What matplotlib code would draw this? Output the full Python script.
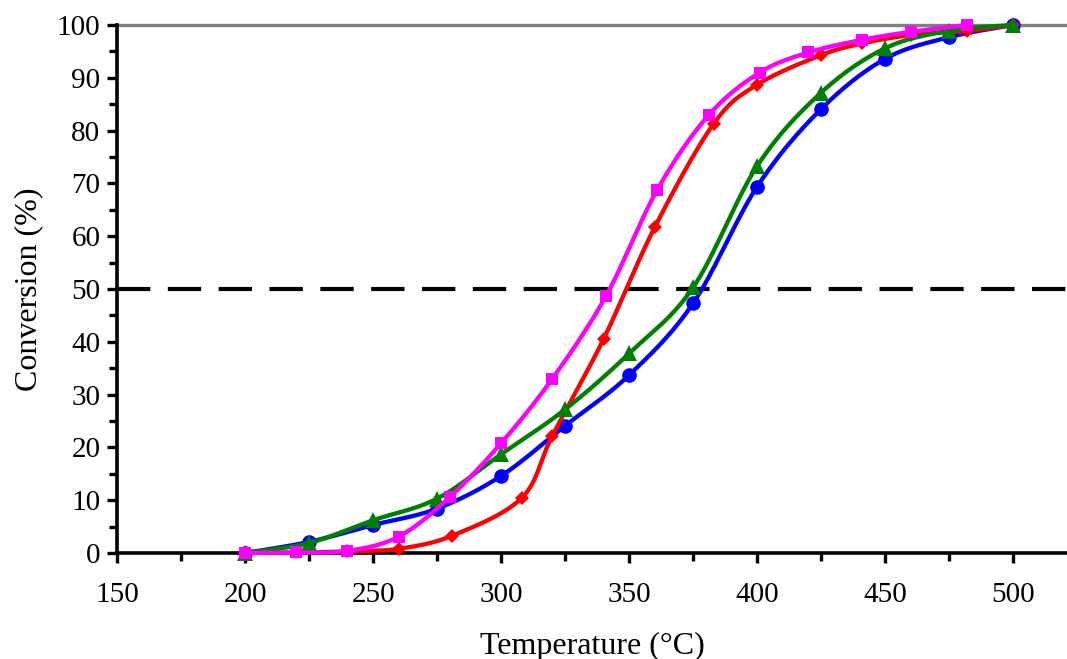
import numpy as np
import matplotlib
matplotlib.use("Agg")
import matplotlib.pyplot as plt
from matplotlib.ticker import MultipleLocator

plt.rcParams['font.family'] = ['Liberation Serif', 'DejaVu Serif']

# ---- data ----
blue_x = [200, 225, 250, 275, 300, 325, 350, 375, 400, 425, 450, 475, 500]
blue_y = [0, 2.1, 5.3, 8.4, 14.6, 24.1, 33.7, 47.3, 69.4, 84.1, 93.6, 97.7, 100]

green_x = [200, 225, 250, 275, 300, 325, 350, 375, 400, 425, 450, 475, 500]
green_y = [0, 1.9, 6.2, 10.3, 18.7, 27.2, 37.8, 50.3, 73.3, 87.2, 95.6, 98.9, 100]

red_x = [200, 220, 240, 260, 281, 308, 320, 340, 360, 383, 400, 425, 441, 460, 482, 500]
red_y = [0, 0.1, 0.3, 0.8, 3.3, 10.4, 22.2, 40.5, 61.7, 81.3, 88.7, 94.3, 96.5, 98.1, 98.9, 100]

magenta_x = [200, 220, 240, 260, 280, 300, 320, 341, 361, 381, 401, 420, 441, 460, 482]
magenta_y = [0, 0.1, 0.4, 3.1, 10.6, 20.8, 33.0, 48.7, 68.8, 82.9, 91.0, 94.8, 97.2, 98.7, 100]

x_ticks = [150, 200, 250, 300, 350, 400, 450, 500]
y_ticks = [0, 10, 20, 30, 40, 50, 60, 70, 80, 90, 100]


def smooth(x, y, n=30):
    """Excel-like smoothed line (Catmull-Rom spline through the points)."""
    x = np.asarray(x, float)
    y = np.asarray(y, float)
    px = np.concatenate([[x[0]], x, [x[-1]]])
    py = np.concatenate([[y[0]], y, [y[-1]]])
    xs, ys = [], []
    t = np.linspace(0, 1, n)
    for i in range(1, len(px) - 2):
        p0x, p1x, p2x, p3x = px[i - 1], px[i], px[i + 1], px[i + 2]
        p0y, p1y, p2y, p3y = py[i - 1], py[i], py[i + 1], py[i + 2]
        c1x = p1x + (p2x - p0x) / 6
        c1y = p1y + (p2y - p0y) / 6
        c2x = p2x - (p3x - p1x) / 6
        c2y = p2y - (p3y - p1y) / 6
        bx = (1 - t) ** 3 * p1x + 3 * (1 - t) ** 2 * t * c1x + 3 * (1 - t) * t ** 2 * c2x + t ** 3 * p2x
        by = (1 - t) ** 3 * p1y + 3 * (1 - t) ** 2 * t * c1y + 3 * (1 - t) * t ** 2 * c2y + t ** 3 * p2y
        xs.append(bx)
        ys.append(by)
    return np.concatenate(xs), np.concatenate(ys)


fig = plt.figure(figsize=(10.67, 6.59), dpi=100)
ax = fig.add_axes([117 / 1067, 1 - 553 / 659, 1 - 117 / 1067, (553 - 25) / 659])

ax.axhline(100, color='#808080', lw=2.4, zorder=1, clip_on=False)
ax.axhline(50, color='black', lw=3.0, dashes=(8, 4.2), zorder=1)

series = [
    (blue_x, blue_y, '#0000FF', 'o', 10.5),
    (red_x, red_y, '#FF0000', 'D', 7),
    (green_x, green_y, '#008000', '^', 11),
    (magenta_x, magenta_y, '#FF00FF', 's', 8.5),
]
for i, (xx, yy, c, m, ms) in enumerate(series):
    sx, sy = smooth(xx, yy)
    ax.plot(sx, sy, color=c, lw=3.1, zorder=3 + i, clip_on=False, solid_capstyle='round')
    ax.plot(xx, yy, linestyle='none', marker=m, color=c, ms=ms, zorder=3 + i, clip_on=False,
            markeredgewidth=0)

ax.set_xlim(150, 521)
ax.set_ylim(0, 100)
ax.set_xticks(x_ticks)
ax.set_yticks(y_ticks)
ax.xaxis.set_minor_locator(MultipleLocator(25))
ax.yaxis.set_minor_locator(MultipleLocator(5))

for s in ['top', 'right']:
    ax.spines[s].set_visible(False)
for s in ['left', 'bottom']:
    ax.spines[s].set_linewidth(2.6)
    ax.spines[s].set_zorder(2)

ax.tick_params(which='both', direction='out', width=2.4, labelsize=21)
ax.tick_params(which='major', length=7)
ax.tick_params(which='minor', length=6)
ax.tick_params(axis='x', which='major', pad=14)
ax.tick_params(axis='y', which='major', pad=5)

ax.set_xlabel('Temperature (°C)', fontsize=23, labelpad=17)
ax.set_ylabel('Conversion (%)', fontsize=23, labelpad=10)

fig.savefig('out.png', dpi=100)
